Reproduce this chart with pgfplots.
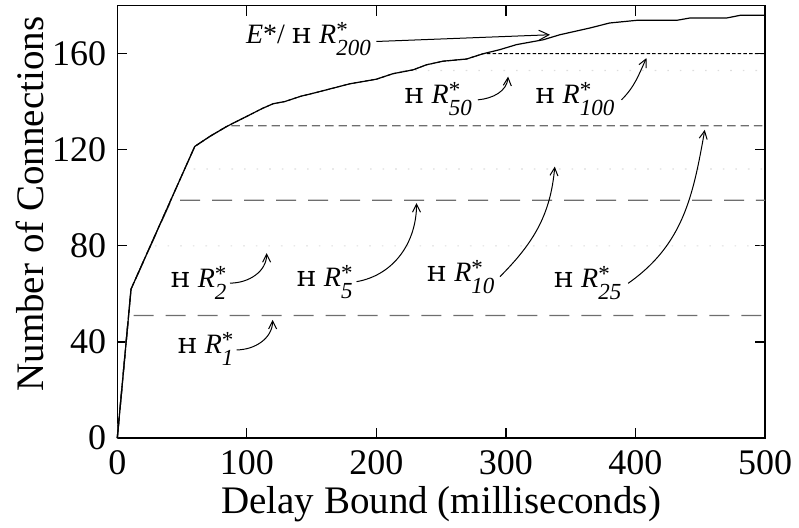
\documentclass[border=0pt]{standalone}
\usepackage{fontspec}
\setmainfont{Liberation Serif}
\usepackage{graphicx}
\usepackage{pgfplots}
\pgfplotsset{compat=1.18}
\usetikzlibrary{arrows.meta}
\newcommand{\RS}[1]{\textit{R}\rlap{\raisebox{3.0pt}{\fontsize{11.5}{12}\selectfont *}}\raisebox{-6.0pt}{\fontsize{11.5}{12}\selectfont\itshape #1}}
\newcommand{\HR}[1]{\scalebox{1.35}[0.88]{\texttt{H}}\hspace{0.28em}\RS{#1}}
\definecolor{dashgray}{HTML}{6E6E6E}
\definecolor{faint}{HTML}{DDDDDD}
\begin{document}
\begin{tikzpicture}
\begin{axis}[
  scale only axis, width=323.9pt, height=216.2pt,
  xmin=0, xmax=500, ymin=0, ymax=180,
  xtick={0,100,...,500}, ytick={0,40,...,160},
  tick align=inside, major tick length=5pt,
  tick style={black, line width=0.6pt},
  axis line style={line width=0.65pt},
  /pgf/number format/assume math mode=true,
  ticklabel style={font=\fontsize{18}{20}\selectfont},
  xticklabel style={yshift=-2.5pt},
  yticklabel style={xshift=-2pt},
  label style={font=\fontsize{19.5}{22}\selectfont},
  xlabel={Delay Bound (milliseconds)},
  ylabel={Number of Connections},
  xlabel style={at={(rel axis cs:0.5,-0.1735)}, anchor=base},
  ylabel style={at={(rel axis cs:-0.1142,0.541)}, anchor=base, rotate=0},
  clip=false,
  every axis plot/.append style={line join=round},
]
% faint dotted series (R2, R10, R50)
\addplot[faint, line width=0.6pt, dash pattern=on 0.8pt off 5.5pt] coordinates {(0,0) (10.6,62) (25.5,80) (500,80)};
\addplot[faint, line width=0.6pt, dash pattern=on 0.8pt off 5.5pt] coordinates {(0,0) (10.6,62) (52.4,112) (500,112)};
\addplot[faint, line width=0.6pt, dash pattern=on 0.8pt off 5.5pt] coordinates {(0,0) (10.6,62) (59.8,121.4) (71.5,125.6) (84.4,129.7) (99.8,133.9) (112.7,137.4) (120.4,139.2) (129.4,140.1) (141,142.2) (153.8,143.9) (166.7,145.7) (179.6,147.5) (200,149.4) (212.9,151.7) (221,153) (500,153)};
% R1
\addplot[dashgray, line width=0.65pt, dash pattern=on 10pt off 6pt] coordinates {(0,0) (8.7,51) (500,51)};
% R5
\addplot[dashgray, line width=0.65pt, dash pattern=on 10pt off 6pt] coordinates {(0,0) (10.6,62) (41.6,99) (500,99)};
% R25
\addplot[dashgray, line width=0.65pt, dash pattern=on 4.2pt off 2.5pt] coordinates {(0,0) (10.6,62) (59.8,121.4) (71.5,125.6) (84.4,129.7) (85.5,130) (500,130)};
% R100
\addplot[black, line width=0.5pt, dash pattern=on 1.75pt off 1.1pt] coordinates {(0,0) (10.6,62) (59.8,121.4) (71.5,125.6) (84.4,129.7) (99.8,133.9) (112.7,137.4) (120.4,139.2) (129.4,140.1) (141,142.2) (153.8,143.9) (166.7,145.7) (179.6,147.5) (200,149.4) (212.9,151.7) (228.4,153.3) (238.7,155.4) (251.5,156.9) (269.6,157.8) (282.4,160) (500,160)};
% E* / R200
\addplot[black, line width=0.6pt] coordinates {(0,0) (10.6,62) (59.8,121.4) (71.5,125.6) (84.4,129.7) (99.8,133.9) (112.7,137.4) (120.4,139.2) (129.4,140.1) (141,142.2) (153.8,143.9) (166.7,145.7) (179.6,147.5) (200,149.4) (212.9,151.7) (228.4,153.3) (238.7,155.4) (251.5,156.9) (269.6,157.8) (282.4,160) (295.3,161.7) (308.2,163.8) (328.7,165.8) (341.6,167.9) (364.7,170.7) (380.1,172.8) (400.8,173.9) (431.7,173.9) (442.3,174.9) (470.6,174.9) (480.9,176) (500,176)};

% annotations
\begin{scope}[font=\fontsize{14}{16}\selectfont]
\node[anchor=east, inner sep=0pt] at (axis cs:196,166) {\textit{E}*/ \HR{200}};
\draw[line width=0.5pt, -{Straight Barb[length=5pt,width=5pt]}] (axis cs:200,165.1) -- (axis cs:334,167.9);
\node[anchor=east, inner sep=0pt] at (axis cs:274,141) {\HR{50}};
\draw[line width=0.5pt, -{Straight Barb[length=4pt,width=4pt]}] (axis cs:278.3,140.8) to[out=5,in=-95] (axis cs:301.7,150.5);
\node[anchor=east, inner sep=0pt] at (axis cs:384,141) {\HR{100}};
\draw[line width=0.5pt, -{Straight Barb[length=4pt,width=4pt]}] (axis cs:389.2,140.8) to[out=45,in=-115] (axis cs:408.5,158.2);
\node[anchor=east, inner sep=0pt] at (axis cs:389.4,64.5) {\HR{25}};
\draw[line width=0.5pt, -{Straight Barb[length=4pt,width=4pt]}] (axis cs:394.3,64.4) to[out=35,in=-100] (axis cs:453.5,128.3);
\node[anchor=east, inner sep=0pt] at (axis cs:291.4,67) {\HR{10}};
\draw[line width=0.5pt, -{Straight Barb[length=4pt,width=4pt]}] (axis cs:295.4,67.2) to[out=45,in=-95] (axis cs:337.7,113);
\node[anchor=east, inner sep=0pt] at (axis cs:181.9,65) {\HR{5}};
\draw[line width=0.5pt, -{Straight Barb[length=4pt,width=4pt]}] (axis cs:184.7,65.1) to[out=10,in=-90] (axis cs:231,97.8);
\node[anchor=east, inner sep=0pt] at (axis cs:84.6,64.5) {\HR{2}};
\draw[line width=0.5pt, -{Straight Barb[length=4pt,width=4pt]}] (axis cs:87,64.5) to[out=0,in=-90] (axis cs:115.3,77);
\node[anchor=east, inner sep=0pt] at (axis cs:90,37) {\HR{1}};
\draw[line width=0.5pt, -{Straight Barb[length=4pt,width=4pt]}] (axis cs:92.1,36.7) to[out=0,in=-90] (axis cs:119.9,49.2);
\end{scope}
\coordinate (bbsw) at (rel axis cs:-0.1811,-0.2058);
\coordinate (bbne) at (rel axis cs:1.0525,1.0132);
\end{axis}
\pgfresetboundingbox
\path (bbsw) rectangle (bbne);
\end{tikzpicture}
\end{document}
